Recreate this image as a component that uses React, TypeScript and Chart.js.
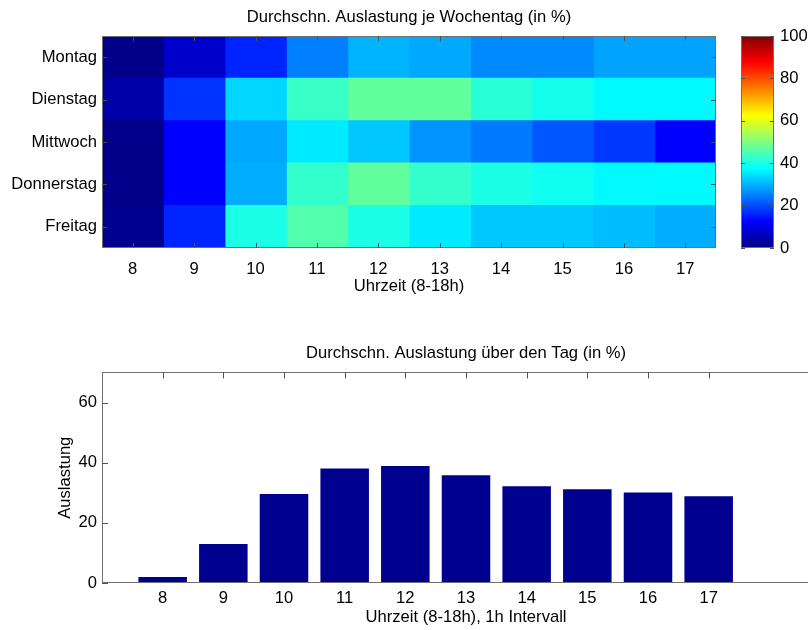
import React, { useEffect, useRef } from "react";
import { Chart, registerables } from "chart.js";

Chart.register(...registerables);

// ---------- data ----------
const WEEKDAYS = ["Montag", "Dienstag", "Mittwoch", "Donnerstag", "Freitag"];
const HOURS = [8, 9, 10, 11, 12, 13, 14, 15, 16, 17];

const MONTAG = [1, 7.5, 16, 25, 30, 29, 26, 26, 28.5, 28.5];
const DIENSTAG = [4, 17.5, 33.5, 43, 47, 47, 41.5, 39.5, 37, 37];
const MITTWOCH = [1, 12.5, 29, 35.5, 32, 27, 24.5, 21, 18, 12.5];
const DONNERSTAG = [1, 12.5, 29.5, 42.5, 47, 42.5, 40, 39, 37, 37];
const FREITAG = [1.5, 16, 40, 45.5, 40, 35.5, 32, 32, 31, 29.5];
const HEAT_ROWS = [MONTAG, DIENSTAG, MITTWOCH, DONNERSTAG, FREITAG];

const DAILY_AVG = [2.0, 13.0, 29.6, 38.1, 38.9, 35.8, 32.2, 31.2, 30.1, 28.8];

const COLORBAR_TICKS = [0, 20, 40, 60, 80, 100];
const BAR_Y_TICKS = [0, 20, 40, 60];

const TITLE_TOP = "Durchschn. Auslastung je Wochentag (in %)";
const TITLE_BOTTOM = "Durchschn. Auslastung über den Tag (in %)";
const XLABEL_TOP = "Uhrzeit (8-18h)";
const XLABEL_BOTTOM = "Uhrzeit (8-18h), 1h Intervall";
const YLABEL_BOTTOM = "Auslastung";

// ---------- style helpers ----------
const FONT = "'Liberation Sans', Arial, Helvetica, sans-serif";
const FONT_SIZE = 16.6;
const FRAME_COLOR = "#707070";
const TICK_COLOR = "#505050";
const BAR_COLOR = "#00008f";

function jet(v: number): string {
  const x = Math.max(0, Math.min(1, v / 100));
  const c = (t: number) =>
    Math.round(255 * Math.max(0, Math.min(1, 1.5 - Math.abs(4 * x - t))));
  return `rgb(${c(3)},${c(2)},${c(1)})`;
}

type Side = "top" | "bottom" | "left" | "right";

function drawTicks(chart: any, axisId: string, sides: Side[], len: number) {
  const scale = chart.scales[axisId];
  if (!scale) return;
  const { left, right, top, bottom } = chart.chartArea;
  const ctx = chart.ctx;
  ctx.save();
  ctx.strokeStyle = TICK_COLOR;
  ctx.lineWidth = 1;
  ctx.beginPath();
  scale.ticks.forEach((_t: any, i: number) => {
    const p = Math.round(scale.getPixelForTick(i)) + 0.5;
    sides.forEach((side) => {
      if (side === "top") {
        ctx.moveTo(p, top);
        ctx.lineTo(p, top + len);
      } else if (side === "bottom") {
        ctx.moveTo(p, bottom);
        ctx.lineTo(p, bottom - len);
      } else if (side === "left") {
        ctx.moveTo(left, p);
        ctx.lineTo(left + len, p);
      } else {
        ctx.moveTo(right, p);
        ctx.lineTo(right - len, p);
      }
    });
  });
  ctx.stroke();
  ctx.restore();
}

function drawFrame(chart: any) {
  const { left, right, top, bottom } = chart.chartArea;
  const ctx = chart.ctx;
  ctx.save();
  ctx.strokeStyle = FRAME_COLOR;
  ctx.lineWidth = 1;
  ctx.strokeRect(
    Math.round(left) + 0.5,
    Math.round(top) + 0.5,
    Math.round(right) - Math.round(left) - 1,
    Math.round(bottom) - Math.round(top) - 1
  );
  ctx.restore();
}

function setTicks(values: number[]) {
  return (scale: any) => {
    scale.ticks = values.map((v) => ({ value: v }));
  };
}

Chart.defaults.font.family = FONT;
Chart.defaults.font.size = FONT_SIZE;
Chart.defaults.color = "#000";

// ---------- component ----------
export default function App() {
  const heatRef = useRef<HTMLCanvasElement>(null);
  const cbarRef = useRef<HTMLCanvasElement>(null);
  const barRef = useRef<HTMLCanvasElement>(null);

  useEffect(() => {
    const charts: Chart[] = [];

    // Heatmap (floating horizontal bars, one dataset per hour)
    if (heatRef.current) {
      charts.push(
        new Chart(heatRef.current, {
          type: "bar",
          data: {
            labels: WEEKDAYS,
            datasets: HOURS.map((h, j) => ({
              label: String(h),
              data: WEEKDAYS.map(() => [h - 0.5, h + 0.5]),
              backgroundColor: HEAT_ROWS.map((row) => jet(row[j])),
              borderWidth: 0,
              grouped: false,
              barPercentage: 1,
              categoryPercentage: 1,
              inflateAmount: 0.6,
            })) as any,
          },
          options: {
            indexAxis: "y",
            animation: false,
            responsive: false,
            events: [],
            devicePixelRatio: 1,
            layout: { padding: { left: 0, right: 14, top: 0, bottom: 0 } },
            plugins: {
              legend: { display: false },
              tooltip: { enabled: false },
              title: {
                display: true,
                text: TITLE_TOP,
                fullSize: false,
                color: "#000",
                font: { size: FONT_SIZE, weight: "normal" },
                padding: { top: 7, bottom: 9.1 },
              },
            },
            scales: {
              x: {
                type: "linear",
                min: 7.5,
                max: 17.5,
                afterBuildTicks: setTicks(HOURS),
                afterFit: (s: any) => {
                  s.height = 52;
                },
                ticks: {
                  padding: 11,
                  autoSkip: false,
                  maxRotation: 0,
                  callback: (v: any) => String(v),
                },
                grid: { display: false, drawTicks: false },
                border: { display: false },
                title: {
                  display: true,
                  text: XLABEL_TOP,
                  padding: { top: 0, bottom: 4 },
                },
              },
              y: {
                type: "category",
                offset: true,
                afterFit: (s: any) => {
                  s.width = 102;
                },
                ticks: { padding: 5, autoSkip: false },
                grid: { display: false, drawTicks: false },
                border: { display: false },
              },
            },
          } as any,
          plugins: [
            {
              id: "heatFrame",
              afterDatasetsDraw(chart: any) {
                drawFrame(chart);
                drawTicks(chart, "x", ["top", "bottom"], 5);
                drawTicks(chart, "y", ["left", "right"], 5);
              },
            },
          ],
        })
      );
    }

    // Colorbar
    if (cbarRef.current) {
      charts.push(
        new Chart(cbarRef.current, {
          type: "bar",
          data: {
            labels: [""],
            datasets: [
              {
                data: [[COLORBAR_TICKS[0], COLORBAR_TICKS[COLORBAR_TICKS.length - 1]]],
                backgroundColor: (ctx: any) => {
                  const area = ctx.chart.chartArea;
                  if (!area) return jet(0);
                  const g = ctx.chart.ctx.createLinearGradient(0, area.bottom, 0, area.top);
                  [0, 0.125, 0.375, 0.625, 0.875, 1].forEach((s) =>
                    g.addColorStop(s, jet(s * 100))
                  );
                  return g;
                },
                borderWidth: 0,
                barPercentage: 1,
                categoryPercentage: 1,
              },
            ] as any,
          },
          options: {
            animation: false,
            responsive: false,
            events: [],
            devicePixelRatio: 1,
            layout: { padding: { left: 0, right: 0, top: 36, bottom: 52 } },
            plugins: {
              legend: { display: false },
              tooltip: { enabled: false },
              title: { display: false },
            },
            scales: {
              x: { display: false, offset: true },
              y: {
                position: "right",
                min: 0,
                max: 100,
                afterBuildTicks: setTicks(COLORBAR_TICKS),
                afterFit: (s: any) => {
                  s.width = 34;
                },
                ticks: { padding: 6, callback: (v: any) => String(v) },
                grid: { display: false, drawTicks: false },
                border: { display: false },
              },
            },
          } as any,
          plugins: [
            {
              id: "cbarFrame",
              afterDatasetsDraw(chart: any) {
                drawFrame(chart);
                drawTicks(chart, "y", ["left", "right"], 4);
              },
            },
          ],
        })
      );
    }

    // Bar chart
    if (barRef.current) {
      charts.push(
        new Chart(barRef.current, {
          type: "bar",
          data: {
            datasets: [
              {
                data: HOURS.map((h, i) => ({ x: h, y: DAILY_AVG[i] })),
                backgroundColor: BAR_COLOR,
                borderWidth: 0,
                barPercentage: 0.8,
                categoryPercentage: 1,
              },
            ] as any,
          },
          options: {
            animation: false,
            responsive: false,
            events: [],
            devicePixelRatio: 1,
            layout: { padding: 0 },
            plugins: {
              legend: { display: false },
              tooltip: { enabled: false },
              title: {
                display: true,
                text: TITLE_BOTTOM,
                fullSize: false,
                color: "#000",
                font: { size: FONT_SIZE, weight: "normal" },
                padding: { top: 13.4, bottom: 9.1 },
              },
            },
            scales: {
              x: {
                type: "linear",
                min: 7,
                max: 19,
                offset: false,
                afterBuildTicks: setTicks(HOURS),
                afterFit: (s: any) => {
                  s.height = 47;
                },
                ticks: {
                  padding: 5.5,
                  autoSkip: false,
                  maxRotation: 0,
                  callback: (v: any) => String(v),
                },
                grid: { display: false, drawTicks: false },
                border: { display: false },
                title: {
                  display: true,
                  text: XLABEL_BOTTOM,
                  padding: { top: 0, bottom: 3 },
                },
              },
              y: {
                type: "linear",
                min: 0,
                max: 70,
                afterBuildTicks: setTicks(BAR_Y_TICKS),
                afterFit: (s: any) => {
                  s.width = 102;
                },
                ticks: { padding: 5, callback: (v: any) => String(v) },
                grid: { display: false, drawTicks: false },
                border: { display: false },
                title: {
                  display: true,
                  text: YLABEL_BOTTOM,
                  padding: { top: 55, bottom: 0 },
                },
              },
            },
          } as any,
          plugins: [
            {
              id: "barFrameUnder",
              beforeDatasetsDraw(chart: any) {
                drawTicks(chart, "x", ["bottom"], 6);
              },
              afterDatasetsDraw(chart: any) {
                drawFrame(chart);
                drawTicks(chart, "x", ["top"], 6);
                drawTicks(chart, "y", ["left"], 6);
              },
            },
          ],
        })
      );
    }

    return () => charts.forEach((c) => c.destroy());
  }, []);

  return (
    <div
      style={{
        position: "fixed",
        left: 0,
        top: 0,
        width: 808,
        height: 630,
        overflow: "hidden",
        background: "#fff",
      }}
    >
      <canvas
        ref={heatRef}
        width={730}
        height={300}
        style={{ position: "absolute", left: 0, top: 0, width: 730, height: 300 }}
      />
      <canvas
        ref={cbarRef}
        width={67}
        height={300}
        style={{ position: "absolute", left: 741, top: 0, width: 67, height: 300 }}
      />
      <canvas
        ref={barRef}
        width={830}
        height={300}
        style={{ position: "absolute", left: 0, top: 330, width: 830, height: 300 }}
      />
    </div>
  );
}
